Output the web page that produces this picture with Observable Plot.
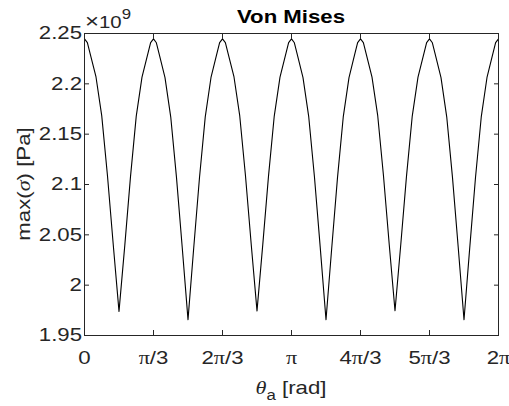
<!DOCTYPE html>
<html><head><meta charset="utf-8">
<script src="https://cdn.jsdelivr.net/npm/d3@7"></script>
<script src="https://cdn.jsdelivr.net/npm/@observablehq/plot@0.6"></script>
<style>html,body{margin:0;padding:0;background:#fff}svg{display:block}</style>
</head><body><div id="chart"></div>
<script>
// angle theta_a in degrees (axis labelled in radians)
const thetaDeg = [0,2.5,5,10,15,20,25,30,35,40,45,50,55,57.5,60,62.5,65,70,75,80,85,90,95,100,105,110,115,117.5,120,
  122.5,125,130,135,140,145,150,155,160,165,170,175,177.5,180,182.5,185,190,195,200,205,210,215,220,225,230,235,237.5,240,
  242.5,245,250,255,260,265,270,275,280,285,290,295,297.5,300,302.5,305,310,315,320,325,330,335,340,345,350,355,357.5,360];
// max(sigma) in units of 1e9 Pa
const sigmaMax = [2.2447,2.2410,2.2296,2.2068,2.1682,2.1085,2.0402,1.9740,2.0390,2.1078,2.1679,2.2066,2.2295,2.2409,
  2.2446,2.2408,2.2293,2.2062,2.1670,2.1068,2.0372,1.9658,2.0374,2.1070,2.1672,2.2063,2.2294,2.2409,
  2.2447,2.2410,2.2296,2.2068,2.1681,2.1084,2.0401,1.9745,2.0400,2.1083,2.1680,2.2067,2.2296,2.2410,
  2.2447,2.2408,2.2293,2.2062,2.1671,2.1069,2.0373,1.9657,2.0372,2.1068,2.1671,2.2062,2.2294,2.2409,
  2.2446,2.2410,2.2296,2.2067,2.1681,2.1084,2.0401,1.9746,2.0401,2.1083,2.1680,2.2067,2.2295,2.2410,
  2.2447,2.2408,2.2293,2.2062,2.1670,2.1068,2.0372,1.9657,2.0373,2.1069,2.1671,2.2063,2.2294,2.2409,2.2447];
const xTicks = [0,60,120,180,240,300,360];
const xTickLabels = ["0","π/3","2π/3","π","4π/3","5π/3","2π"];
const yTicks = [1.95,2,2.05,2.1,2.15,2.2,2.25];
const yTickLabels = ["1.95","2","2.05","2.1","2.15","2.2","2.25"];
const titleText = "Von Mises";

const data = thetaDeg.map((t,i)=>({theta:t, sigma:sigmaMax[i]}));
const sans = "'Liberation Sans', Arial, Helvetica, sans-serif";
const serif = "'Liberation Serif', 'Times New Roman', serif";
const W = 509, H = 406, mL = 84, mR = 11, mT = 33, mB = 71;

const plot = Plot.plot({
  width: W, height: H, marginLeft: mL, marginRight: mR, marginTop: mT, marginBottom: mB,
  style: {fontFamily: sans, fontSize: "18.5px", color: "#262626", background: "#fff"},
  x: {domain: [0, 360]},
  y: {domain: [1.95, 2.25]},
  marks: [
    Plot.line(data, {x: "theta", y: "sigma", stroke: "#000", strokeWidth: 1.1}),
    Plot.axisX({anchor: "bottom", ticks: xTicks, tickSize: -5, tickPadding: 20,
      tickFormat: d => xTickLabels[xTicks.indexOf(d)], label: null}),
    Plot.axisX({anchor: "top", ticks: xTicks, tickSize: -5, tickFormat: () => "", label: null}),
    Plot.axisY({anchor: "left", ticks: yTicks, tickSize: -5, tickPadding: 7.5,
      tickFormat: d => yTickLabels[yTicks.indexOf(d)], label: null}),
    Plot.axisY({anchor: "right", ticks: yTicks, tickSize: -5, tickFormat: () => "", label: null}),
    Plot.frame({stroke: "#262626"})
  ]
});
document.getElementById("chart").appendChild(plot);
const svg = d3.select(plot);

// pi glyphs in a serif face
svg.selectAll("text").each(function() {
  const s = this.textContent;
  if (s.includes("π")) {
    const t = d3.select(this);
    t.text(null);
    s.split(/(π)/).filter(p => p.length).forEach(p => {
      const ts = t.append("tspan").text(p);
      if (p === "π") ts.attr("font-family", serif);
    });
  }
});

const cx = mL + (W - mL - mR) / 2;
// title
svg.append("text").attr("x", cx).attr("y", 23).attr("text-anchor", "middle")
  .attr("font-weight", "bold").attr("fill", "#000").attr("font-size", 18.5).attr("font-family", sans)
  .text(titleText);
// x label
const xl = svg.append("text").attr("x", cx).attr("y", 394).attr("text-anchor", "middle")
  .attr("fill", "#262626").attr("font-size", 18.5).attr("font-family", sans);
xl.append("tspan").attr("font-family", serif).attr("font-style", "italic").text("θ");
xl.append("tspan").attr("dy", 6).attr("font-size", 14).text("a");
xl.append("tspan").attr("dy", -6).text(" [rad]");
// y label
const yl = svg.append("text").attr("transform", `translate(30,${mT + (H - mT - mB) / 2}) rotate(-90)`)
  .attr("text-anchor", "middle").attr("fill", "#262626").attr("font-size", 18.5).attr("font-family", sans);
yl.append("tspan").text("max(");
yl.append("tspan").attr("font-family", serif).attr("font-style", "italic").text("σ");
yl.append("tspan").text(") [Pa]");

// widen glyphs to match the reference's wide lettering
svg.selectAll("text").each(function() {
  const w = this.getComputedTextLength();
  if (w > 0) {
    this.setAttribute("textLength", (w * 1.2).toFixed(1));
    this.setAttribute("lengthAdjust", "spacingAndGlyphs");
  }
});

// exponent (scaled horizontally by a transform instead)
const ex = svg.append("text").attr("transform", "translate(85,28) scale(1.2,1)")
  .attr("x", 0).attr("y", 0).attr("text-anchor", "start").attr("fill", "#262626")
  .attr("font-size", 17).attr("font-family", sans);
ex.append("tspan").attr("font-size", 20).text("×");
ex.append("tspan").text("10");
ex.append("tspan").attr("dy", -9).attr("font-size", 14).text("9");
</script></body></html>
